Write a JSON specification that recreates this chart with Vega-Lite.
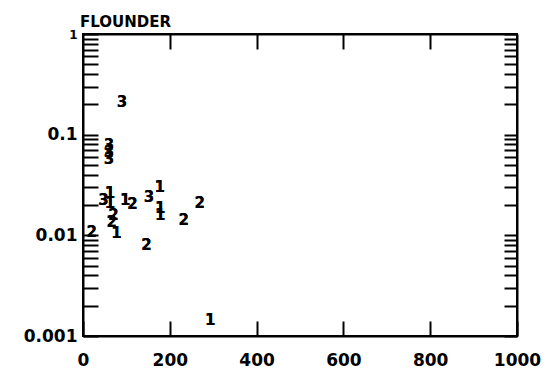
{
  "$schema": "https://vega.github.io/schema/vega-lite/v6.json",
  "autosize": "none",
  "width": 434,
  "height": 302,
  "padding": {"left": 83, "top": 34, "right": 38, "bottom": 39},
  "background": "white",
  "config": {
    "view": {"stroke": "black", "strokeWidth": 2},
    "axis": {
      "domainColor": "black", "domainWidth": 2,
      "tickColor": "black", "tickWidth": 2,
      "labelColor": "black", "labelFont": "DejaVu Sans", "labelFontWeight": "bold", "labelFontSize": 17,
      "grid": false, "title": null
    }
  },
  "title": {
    "text": "FLOUNDER", "anchor": "start", "frame": "group", "dx": -3, "offset": -2,
    "font": "DejaVu Sans", "fontSize": 15, "fontWeight": "bold", "color": "black"
  },
  "data": {
    "values": [
      {"x": 90, "y": 0.21, "label": "3"},
      {"x": 60, "y": 0.079, "label": "3"},
      {"x": 60, "y": 0.067, "label": "3"},
      {"x": 60, "y": 0.057, "label": "3"},
      {"x": 20, "y": 0.0109, "label": "2"},
      {"x": 47, "y": 0.0225, "label": "3"},
      {"x": 62, "y": 0.0263, "label": "1"},
      {"x": 62, "y": 0.021, "label": "1"},
      {"x": 70, "y": 0.016, "label": "2"},
      {"x": 66, "y": 0.0137, "label": "2"},
      {"x": 77, "y": 0.0105, "label": "1"},
      {"x": 97, "y": 0.0225, "label": "1"},
      {"x": 114, "y": 0.0205, "label": "2"},
      {"x": 152, "y": 0.0242, "label": "3"},
      {"x": 177, "y": 0.0305, "label": "1"},
      {"x": 178, "y": 0.0186, "label": "1"},
      {"x": 178, "y": 0.016, "label": "1"},
      {"x": 232, "y": 0.0142, "label": "2"},
      {"x": 269, "y": 0.0209, "label": "2"},
      {"x": 146, "y": 0.00803, "label": "2"},
      {"x": 293, "y": 0.00145, "label": "1"}
    ]
  },
  "layer": [
    {
      "mark": {"type": "text", "font": "DejaVu Sans", "fontWeight": "bold", "fontSize": 15, "color": "black", "align": "center", "baseline": "middle"},
      "encoding": {
        "x": {"field": "x", "type": "quantitative",
              "scale": {"domain": [0, 1000], "nice": false, "zero": false},
              "axis": {"orient": "bottom", "values": [0, 200, 400, 600, 800, 1000], "tickSize": -15, "labelPadding": 31, "labelFlush": false, "labelExpr": "datum.value"}},
        "y": {"field": "y", "type": "quantitative",
              "scale": {"type": "log", "domain": [0.001, 1], "nice": false},
              "axis": {"orient": "left", "tickSize": -15, "labelPadding": 21, "labelFlush": false,
                       "values": [0.001, 0.002, 0.003, 0.004, 0.005, 0.006, 0.007, 0.008, 0.009, 0.01, 0.02, 0.03, 0.04, 0.05, 0.06, 0.07, 0.08, 0.09, 0.1, 0.2, 0.3, 0.4, 0.5, 0.6, 0.7, 0.8, 0.9, 1],
                       "labelExpr": "datum.value == 1 ? '1' : datum.value == 0.1 ? '0.1' : datum.value == 0.01 ? '0.01' : datum.value == 0.001 ? '0.001' : ''",
                       "labelFontSize": {"condition": {"test": "datum.value == 1", "value": 12}, "value": 17}}},
        "text": {"field": "label"}
      }
    },
    {
      "mark": {"type": "text", "font": "DejaVu Sans", "fontWeight": "bold", "fontSize": 15, "color": "black", "align": "center", "baseline": "middle"},
      "encoding": {
        "x": {"field": "x", "type": "quantitative",
              "scale": {"domain": [0, 1000], "nice": false, "zero": false},
              "axis": {"orient": "top", "values": [200, 400, 600, 800], "tickSize": -15, "labels": false}},
        "y": {"field": "y", "type": "quantitative",
              "scale": {"type": "log", "domain": [0.001, 1], "nice": false},
              "axis": {"orient": "right", "tickSize": -13, "labels": false,
                       "values": [0.001, 0.002, 0.003, 0.004, 0.005, 0.006, 0.007, 0.008, 0.009, 0.01, 0.02, 0.03, 0.04, 0.05, 0.06, 0.07, 0.08, 0.09, 0.1, 0.2, 0.3, 0.4, 0.5, 0.6, 0.7, 0.8, 0.9, 1]}},
        "text": {"field": "label"}
      }
    }
  ],
  "resolve": {"scale": {"x": "independent", "y": "independent"}}
}
